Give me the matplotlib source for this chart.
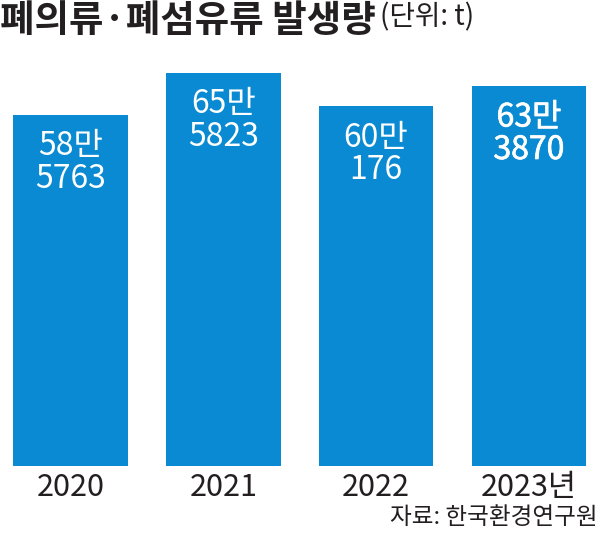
import matplotlib
matplotlib.use("Agg")
import matplotlib.pyplot as plt
import matplotlib.patheffects as pe

plt.rcParams["font.family"] = ["Noto Sans CJK KR", "DejaVu Sans"]

years = ["2020", "2021", "2022", "2023년"]
amounts = [585763, 655823, 600176, 633870]  # t
bar_labels = ["58만\n5763", "65만\n5823", "60만\n176", "63만\n3870"]

BLUE = "#0a8ad2"
INK = "#231f20"

fig = plt.figure(figsize=(6.01, 5.40), dpi=100)
ax = fig.add_axes([0, 74 / 540, 1, 466 / 540])

x = list(range(len(years)))
bars = ax.bar(x, amounts, width=0.75, color=BLUE)

ax.set_xlim(-0.461, 3.472)
ax.set_ylim(0, 777700)

for i, (b, lab) in enumerate(zip(bars, bar_labels)):
    t = ax.annotate(lab, (b.get_x() + b.get_width() / 2, b.get_height()),
                    xytext=(0, -11), textcoords="offset points",
                    ha="center", va="top", color="white", fontsize=23,
                    linespacing=1.02)
    # last year printed a little heavier
    if i == len(bars) - 1:
        t.set_path_effects([pe.withStroke(linewidth=0.5, foreground="white")])

ax.set_xticks(x)
ax.set_xticklabels(years, fontsize=22, color=INK)
ax.tick_params(axis="x", length=0, pad=4)
ax.set_yticks([])
for s in ax.spines.values():
    s.set_visible(False)

fig.text(0.0, 1 - 1 / 540, "폐의류·폐섬유류 발생량", fontsize=27, fontweight="bold",
         color=INK, ha="left", va="top")
fig.text(380 / 601, 1 - 2 / 540, "(단위: t)", fontsize=20, color=INK,
         ha="left", va="top")
fig.text(598 / 601, 1 - 506 / 540, "자료: 한국환경연구원", fontsize=17, color=INK,
         ha="right", va="top")

fig.savefig("out.png", dpi=100)
